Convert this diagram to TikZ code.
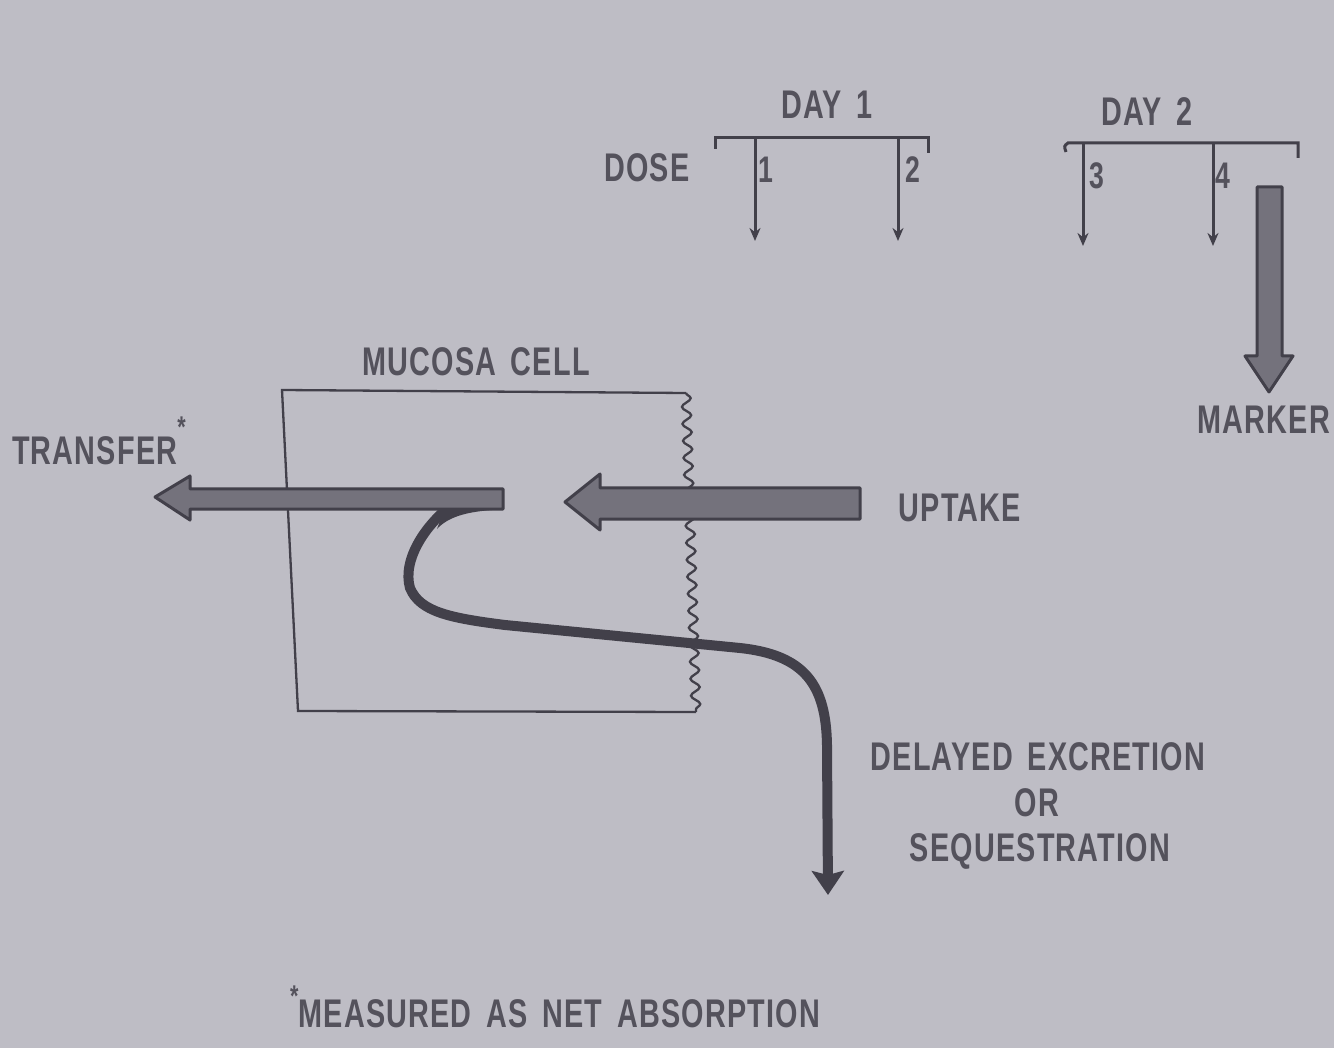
\documentclass[tikz,border=0pt]{standalone}
\usepackage{fontspec}
\newfontfamily\lblfont[FakeStretch=0.72,LetterSpace=3,WordSpace=1.6]{Liberation Sans Bold}
\usetikzlibrary{arrows.meta,decorations.pathmorphing}
\definecolor{bg}{RGB}{190,189,197}
\definecolor{ink}{RGB}{66,64,74}
\definecolor{txt}{RGB}{84,82,92}
\definecolor{blockfill}{RGB}{116,114,124}
\begin{document}
\begin{tikzpicture}[x=1pt,y=-1pt,
  lbl/.style={font=\lblfont\fontsize{40}{48}\selectfont, text=txt, inner sep=0pt},
  numlbl/.style={font=\lblfont\fontsize{37}{44}\selectfont, text=txt, inner sep=0pt},
  doseline/.style={draw=ink, line width=3pt},
  dosearrow/.style={doseline, -{Stealth[length=13pt,width=11pt]}},
  blockarrow/.style={draw=ink, line width=3pt, fill=blockfill, line join=round},
  cellwall/.style={draw=ink, line width=2.3pt},
  flowcurve/.style={draw=ink, line width=10pt, -{Stealth[length=24pt,width=32pt,inset=4pt]}},
]
\fill[bg] (0,0) rectangle (1334,1048);
\useasboundingbox (0,0) rectangle (1334,1048);

% ---- dose schedule ----
\node[lbl] (day1) at (827,105) {DAY 1};
\node[lbl] (day2) at (1147,112) {DAY 2};
\node[lbl] (dose) at (647,168) {DOSE};

\coordinate (b1l) at (715,149);
\coordinate (b1r) at (928,153);
\draw[doseline] (b1l) -- (715,138) -- (928,138) -- (b1r);
\coordinate (d1s) at (755,138); \coordinate (d1e) at (755,241);
\coordinate (d2s) at (898,138); \coordinate (d2e) at (898,241);
\draw[dosearrow] (d1s) -- (d1e);
\draw[dosearrow] (d2s) -- (d2e);
\node[numlbl] (n1) at (766,170) {1};
\node[numlbl] (n2) at (913,170) {2};

\coordinate (b2l) at (1066,152);
\coordinate (b2r) at (1298,158);
\draw[doseline] (b2l) .. controls (1064,146) .. (1068,143) -- (1298,143) -- (b2r);
\coordinate (d3s) at (1083,143); \coordinate (d3e) at (1083,246);
\coordinate (d4s) at (1213,143); \coordinate (d4e) at (1213,246);
\draw[dosearrow] (d3s) -- (d3e);
\draw[dosearrow] (d4s) -- (d4e);
\node[numlbl] (n3) at (1097,176) {3};
\node[numlbl] (n4) at (1223,176) {4};

% ---- marker arrow ----
\draw[blockarrow] (1257,187) -- (1282,187) -- (1282,356) -- (1293,356)
  -- (1269,392) -- (1245,356) -- (1257,356) -- cycle;
\node[lbl] (marker) at (1264,420) {MARKER};

% ---- mucosa cell ----
\node[lbl] (mucosa) at (476,362) {MUCOSA CELL};
\coordinate (ctr) at (686,393);
\coordinate (ctl) at (282,390);
\coordinate (cbl) at (298,711);
\coordinate (cbr) at (696,712);
\draw[cellwall] (ctr) -- (ctl) -- (cbl) -- (cbr);
\draw[cellwall, decorate, decoration={snake, amplitude=4.5pt, segment length=17pt}] (ctr) -- (cbr);

% ---- delayed excretion curve (starts inside the transfer shaft) ----
\coordinate (junc) at (462,497);
\coordinate (excr) at (828,895);
\draw[flowcurve] (junc) .. controls (425,522) and (402,560) .. (410,588)
  .. controls (420,612) and (450,618) .. (505,625)
  -- (740,648) .. controls (805,655) and (826,685) .. (827,745)
  -- (excr);

% ---- transfer arrow ----
\draw[blockarrow] (503,489) -- (503,509) -- (190,509) -- (190,520) -- (155,497)
  -- (190,476) -- (190,489) -- cycle;
\fill[ink] (444,510) -- (492,510) .. controls (466,512) and (448,517) .. (437,529) -- cycle;
\node[lbl, anchor=base west] (transfer) at (12,465) {TRANSFER\raisebox{28pt}{\fontsize{30}{30}\selectfont *}};

% ---- uptake arrow ----
\draw[blockarrow] (860,488) -- (860,519) -- (600,519) -- (600,530) -- (565,502)
  -- (600,474) -- (600,488) -- cycle;
\node[lbl] (uptake) at (960,508) {UPTAKE};

% ---- excretion label ----
\node[lbl] (delayed) at (1038,757) {DELAYED EXCRETION};
\node[lbl] (orlbl) at (1037,803) {OR};
\node[lbl] (seq) at (1040,851) {SEQUESTRATION};

% ---- footnote ----
\node[lbl, anchor=base west] (foot) at (290,1027) {\raisebox{21pt}{\fontsize{30}{30}\selectfont *}MEASURED AS NET ABSORPTION};
\end{tikzpicture}
\end{document}
